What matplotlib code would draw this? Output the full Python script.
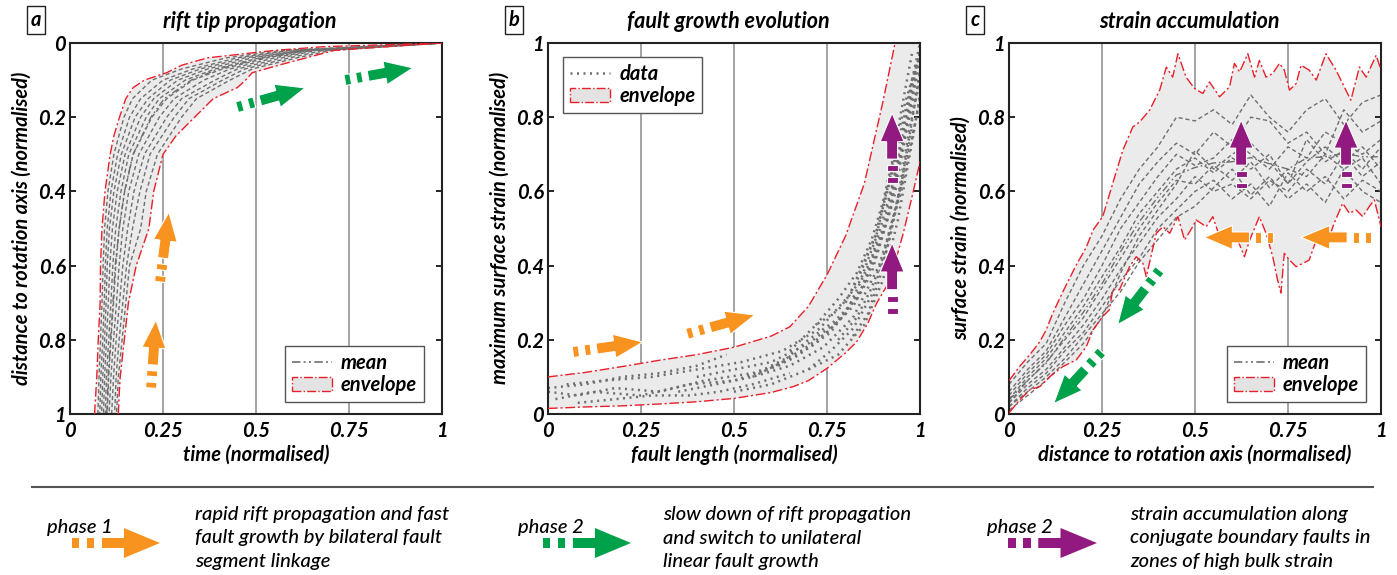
import numpy as np
import matplotlib.pyplot as plt
from matplotlib.patches import Polygon, Patch
from matplotlib.lines import Line2D

plt.rcParams['font.family'] = ['Lato', 'DejaVu Sans']
plt.rcParams['font.style'] = 'italic'
plt.rcParams['axes.linewidth'] = 1.5

W, H = 1397, 575
GREY = '#6f6f6f'
ENV_RED = '#e8202a'
ENV_FILL = '#ebebeb'
ORANGE = '#f7931e'
GREEN = '#00a14b'
PURPLE = '#92197f'

# ---- panel a: rift tip propagation (distance vs time) ----
a_env_d = [1.0, 0.95, 0.9, 0.8, 0.7, 0.6, 0.5, 0.4, 0.3, 0.25, 0.2, 0.15,
           0.12, 0.1, 0.08, 0.06, 0.04, 0.02, 0.01, 0.0]
a_env_early = [0.066, 0.069, 0.072, 0.076, 0.081, 0.082, 0.086, 0.094, 0.108,
               0.118, 0.133, 0.15, 0.17, 0.20, 0.26, 0.30, 0.37, 0.55, 0.68, 1.0]
a_env_late = [0.13, 0.132, 0.135, 0.146, 0.157, 0.178, 0.212, 0.225, 0.25,
              0.285, 0.335, 0.385, 0.45, 0.472, 0.49, 0.56, 0.635, 0.71, 0.85, 1.0]

a_run_d = [1.0, 1.0, 0.9, 0.8, 0.7, 0.6, 0.5, 0.4, 0.3, 0.2, 0.15, 0.1, 0.07, 0.04, 0.02, 0.0]
a_runs_t = [
    [0.0, 0.075, 0.078, 0.082, 0.086, 0.089, 0.093, 0.102, 0.118, 0.145, 0.168, 0.22, 0.30, 0.42, 0.57, 1.0],
    [0.0, 0.080, 0.083, 0.088, 0.092, 0.095, 0.100, 0.110, 0.128, 0.160, 0.190, 0.25, 0.33, 0.45, 0.59, 1.0],
    [0.0, 0.085, 0.088, 0.093, 0.097, 0.100, 0.106, 0.118, 0.138, 0.175, 0.210, 0.27, 0.35, 0.47, 0.61, 1.0],
    [0.0, 0.090, 0.093, 0.098, 0.103, 0.107, 0.114, 0.127, 0.148, 0.190, 0.225, 0.29, 0.37, 0.49, 0.62, 1.0],
    [0.0, 0.095, 0.098, 0.104, 0.110, 0.115, 0.123, 0.137, 0.158, 0.205, 0.240, 0.31, 0.39, 0.51, 0.63, 1.0],
    [0.0, 0.100, 0.104, 0.110, 0.117, 0.123, 0.132, 0.147, 0.170, 0.220, 0.260, 0.33, 0.41, 0.53, 0.64, 1.0],
    [0.0, 0.105, 0.110, 0.117, 0.125, 0.132, 0.142, 0.158, 0.185, 0.240, 0.280, 0.36, 0.43, 0.55, 0.65, 1.0],
    [0.0, 0.112, 0.117, 0.124, 0.133, 0.142, 0.155, 0.172, 0.200, 0.260, 0.300, 0.39, 0.45, 0.57, 0.66, 1.0],
    [0.0, 0.120, 0.124, 0.132, 0.142, 0.152, 0.168, 0.188, 0.215, 0.280, 0.320, 0.41, 0.47, 0.59, 0.68, 1.0],
    [0.0, 0.125, 0.130, 0.140, 0.150, 0.160, 0.190, 0.205, 0.235, 0.300, 0.340, 0.43, 0.49, 0.61, 0.70, 1.0],
]

# ---- panel b: fault growth (max strain vs fault length) ----
b_up_x = [0.0, 0.1, 0.2, 0.3, 0.4, 0.5, 0.6, 0.65, 0.7, 0.75, 0.8, 0.85, 0.9, 0.933]
b_up_y = [0.10, 0.112, 0.128, 0.145, 0.16, 0.18, 0.21, 0.235, 0.29, 0.375, 0.48, 0.62, 0.84, 1.0]
b_lo_x = [0.0, 0.1, 0.2, 0.3, 0.4, 0.5, 0.6, 0.66, 0.7, 0.75, 0.8, 0.83, 0.86, 0.883, 0.92, 0.955, 0.982, 1.0]
b_lo_y = [0.015, 0.019, 0.022, 0.027, 0.033, 0.042, 0.058, 0.074, 0.09, 0.123, 0.165, 0.195,
          0.245, 0.298, 0.361, 0.487, 0.60, 0.68]

b_faults = [
    ([0.00, 0.08, 0.18, 0.30, 0.42, 0.55, 0.66, 0.76, 0.84, 0.90, 0.95, 1.00],
     [0.06, 0.05, 0.07, 0.06, 0.09, 0.11, 0.15, 0.22, 0.33, 0.50, 0.72, 0.95]),
    ([0.02, 0.12, 0.25, 0.38, 0.50, 0.62, 0.72, 0.80, 0.87, 0.93, 0.98],
     [0.04, 0.06, 0.05, 0.08, 0.09, 0.13, 0.19, 0.27, 0.42, 0.63, 0.90]),
    ([0.05, 0.15, 0.28, 0.40, 0.52, 0.63, 0.73, 0.81, 0.88, 0.94, 1.00],
     [0.08, 0.09, 0.10, 0.12, 0.14, 0.17, 0.23, 0.32, 0.48, 0.70, 0.98]),
    ([0.35, 0.45, 0.55, 0.65, 0.74, 0.82, 0.89, 0.95, 1.00],
     [0.06, 0.08, 0.10, 0.13, 0.18, 0.26, 0.40, 0.60, 0.85]),
    ([0.40, 0.50, 0.60, 0.70, 0.78, 0.85, 0.91, 0.96, 1.00],
     [0.10, 0.12, 0.14, 0.19, 0.25, 0.35, 0.52, 0.75, 0.92]),
    ([0.55, 0.63, 0.70, 0.77, 0.83, 0.88, 0.93, 0.97, 1.00],
     [0.10, 0.14, 0.20, 0.25, 0.31, 0.42, 0.58, 0.80, 0.98]),
    ([0.60, 0.68, 0.75, 0.82, 0.87, 0.92, 0.96, 0.99],
     [0.13, 0.17, 0.22, 0.29, 0.38, 0.55, 0.76, 0.95]),
    ([0.50, 0.60, 0.70, 0.78, 0.85, 0.90, 0.94, 0.98, 1.00],
     [0.06, 0.08, 0.12, 0.16, 0.24, 0.36, 0.52, 0.74, 0.86]),
    ([0.65, 0.72, 0.78, 0.84, 0.88, 0.92, 0.95, 0.98],
     [0.17, 0.24, 0.28, 0.36, 0.47, 0.64, 0.82, 0.98]),
    ([0.70, 0.76, 0.82, 0.87, 0.91, 0.94, 0.97, 1.00],
     [0.12, 0.17, 0.23, 0.32, 0.44, 0.58, 0.76, 0.90]),
    ([0.72, 0.78, 0.83, 0.87, 0.90, 0.93, 0.96, 1.00],
     [0.24, 0.31, 0.38, 0.47, 0.57, 0.70, 0.84, 0.97]),
    ([0.78, 0.83, 0.87, 0.90, 0.92, 0.95, 0.98, 1.00],
     [0.20, 0.26, 0.34, 0.42, 0.50, 0.62, 0.80, 0.92]),
    ([0.80, 0.84, 0.88, 0.91, 0.94, 0.97, 1.00],
     [0.30, 0.38, 0.48, 0.60, 0.72, 0.86, 1.00]),
    ([0.00, 0.10, 0.20, 0.30, 0.40, 0.48],
     [0.07, 0.08, 0.10, 0.11, 0.13, 0.16]),
    ([0.08, 0.18, 0.28, 0.38, 0.46, 0.55, 0.65],
     [0.03, 0.04, 0.05, 0.05, 0.06, 0.08, 0.11]),
    ([0.82, 0.86, 0.89, 0.92, 0.95, 0.98],
     [0.21, 0.27, 0.36, 0.48, 0.62, 0.78]),
]

# ---- panel c: strain vs distance to rotation axis ----
c_up_x = [0.0, 0.03, 0.056, 0.083, 0.10, 0.118, 0.145, 0.18, 0.208, 0.226, 0.252, 0.279, 0.306,
          0.333, 0.351, 0.378, 0.405, 0.423, 0.44, 0.454, 0.476, 0.499, 0.521, 0.539, 0.566,
          0.593, 0.606, 0.62, 0.642, 0.66, 0.673, 0.691, 0.709, 0.727, 0.74, 0.754, 0.772,
          0.785, 0.807, 0.826, 0.852, 0.879, 0.901, 0.919, 0.942, 0.96, 0.987, 1.0]
c_up_y = [0.09, 0.13, 0.16, 0.195, 0.227, 0.272, 0.33, 0.40, 0.45, 0.496, 0.532, 0.622, 0.711,
          0.774, 0.787, 0.819, 0.873, 0.935, 0.908, 0.971, 0.908, 0.877, 0.864, 0.895, 0.855,
          0.882, 0.945, 0.922, 0.971, 0.908, 0.953, 0.908, 0.918, 0.945, 0.927, 0.873, 0.891,
          0.94, 0.927, 0.90, 0.971, 0.927, 0.882, 0.846, 0.935, 0.908, 0.967, 0.927]
c_lo_x = [0.0, 0.029, 0.056, 0.083, 0.11, 0.145, 0.181, 0.208, 0.226, 0.252, 0.27, 0.279,
          0.297, 0.324, 0.342, 0.36, 0.369, 0.396, 0.414, 0.432, 0.454, 0.472, 0.494, 0.503,
          0.53, 0.548, 0.566, 0.584, 0.611, 0.633, 0.647, 0.673, 0.691, 0.709, 0.722, 0.731,
          0.74, 0.754, 0.772, 0.79, 0.807, 0.826, 0.852, 0.874, 0.897, 0.915, 0.933, 0.951,
          0.969, 0.982, 1.0]
c_lo_y = [0.003, 0.038, 0.065, 0.074, 0.101, 0.128, 0.146, 0.182, 0.227, 0.263, 0.281, 0.335,
          0.335, 0.397, 0.424, 0.406, 0.37, 0.487, 0.505, 0.487, 0.532, 0.469, 0.505, 0.523,
          0.505, 0.532, 0.478, 0.496, 0.478, 0.424, 0.469, 0.532, 0.487, 0.424, 0.361, 0.326,
          0.433, 0.415, 0.397, 0.406, 0.415, 0.469, 0.451, 0.514, 0.568, 0.541, 0.55, 0.532,
          0.56, 0.577, 0.505]

c_dist = [0.0, 0.05, 0.1, 0.15, 0.2, 0.25, 0.3, 0.35, 0.4, 0.45, 0.5,
          0.55, 0.6, 0.65, 0.7, 0.75, 0.8, 0.85, 0.9, 0.95, 1.0]
c_runs = [
    [0.08, 0.14, 0.19, 0.30, 0.40, 0.48, 0.58, 0.66, 0.72, 0.80, 0.79, 0.82, 0.78, 0.86, 0.80, 0.76, 0.82, 0.85, 0.78, 0.84, 0.86],
    [0.06, 0.12, 0.17, 0.26, 0.35, 0.44, 0.53, 0.62, 0.68, 0.73, 0.70, 0.76, 0.72, 0.80, 0.79, 0.73, 0.76, 0.70, 0.82, 0.76, 0.79],
    [0.05, 0.11, 0.16, 0.24, 0.31, 0.40, 0.50, 0.57, 0.64, 0.70, 0.67, 0.69, 0.74, 0.70, 0.66, 0.72, 0.69, 0.76, 0.73, 0.70, 0.74],
    [0.04, 0.10, 0.15, 0.22, 0.29, 0.37, 0.45, 0.54, 0.60, 0.66, 0.69, 0.65, 0.69, 0.66, 0.70, 0.62, 0.68, 0.72, 0.68, 0.72, 0.66],
    [0.03, 0.09, 0.14, 0.20, 0.26, 0.34, 0.42, 0.50, 0.57, 0.63, 0.62, 0.67, 0.63, 0.68, 0.61, 0.66, 0.64, 0.70, 0.66, 0.69, 0.62],
    [0.03, 0.08, 0.12, 0.18, 0.24, 0.31, 0.39, 0.46, 0.53, 0.58, 0.64, 0.60, 0.62, 0.58, 0.63, 0.60, 0.66, 0.62, 0.70, 0.64, 0.68],
    [0.02, 0.07, 0.11, 0.17, 0.22, 0.29, 0.36, 0.42, 0.50, 0.55, 0.60, 0.63, 0.58, 0.62, 0.56, 0.65, 0.60, 0.64, 0.58, 0.63, 0.60],
    [0.02, 0.06, 0.10, 0.15, 0.21, 0.27, 0.33, 0.41, 0.47, 0.53, 0.56, 0.61, 0.66, 0.59, 0.64, 0.58, 0.62, 0.57, 0.66, 0.60, 0.57],
    [0.01, 0.05, 0.09, 0.14, 0.19, 0.26, 0.38, 0.48, 0.55, 0.62, 0.71, 0.66, 0.70, 0.73, 0.68, 0.62, 0.74, 0.68, 0.71, 0.66, 0.72],
]

xticks = [0, 0.25, 0.5, 0.75, 1]
xticklabels = ['0', '0.25', '0.5', '0.75', '1']
yticks = [0, 0.2, 0.4, 0.6, 0.8, 1]
yticklabels = ['0', '0.2', '0.4', '0.6', '0.8', '1']

titles = ['rift tip propagation', 'fault growth evolution', 'strain accumulation']
xlabels = ['time (normalised)', 'fault length (normalised)', 'distance to rotation axis (normalised)']
ylabels = ['distance to rotation axis (normalised)', 'maximum surface strain (normalised)',
           'surface strain (normalised)']
panel_letters = ['a', 'b', 'c']

phase_labels = ['phase 1', 'phase 2', 'phase 2']
phase_colors = [ORANGE, GREEN, PURPLE]
phase_texts = ['rapid rift propagation and fast\nfault growth by bilateral fault\nsegment linkage',
               'slow down of rift propagation\nand switch to unilateral\nlinear fault growth',
               'strain accumulation along\nconjugate boundary faults in\nzones of high bulk strain']

BOLD = 'bold'
env_dash = (0, (7, 2, 1.5, 2))
mean_dash = (0, (5, 2, 1.2, 2, 1.2, 2))


def px(x, y):
    """pixel position (from top-left) -> figure fraction"""
    return x / W, 1 - y / H


def phase_arrow(target, tail, tip, color, trans, head_w=24, shaft_w=11, edge=True):
    p0 = np.asarray(trans.transform(tail), float)
    p1 = np.asarray(trans.transform(tip), float)
    v = p1 - p0
    L = np.hypot(*v)
    u = v / L
    n = np.array([-u[1], u[0]])

    def pt(s, w):
        return p0 + u * s * L + n * w

    hw, sw = head_w / 2, shaft_w / 2
    parts = [[pt(s0, -sw), pt(s1, -sw), pt(s1, sw), pt(s0, sw)]
             for s0, s1 in [(0.0, 0.085), (0.17, 0.255)]]
    parts.append([pt(0.34, -sw), pt(0.59, -sw), pt(0.59, -hw), pt(1.0, 0),
                  pt(0.59, hw), pt(0.59, sw), pt(0.34, sw)])
    inv = trans.inverted()
    for verts in parts:
        poly = Polygon(inv.transform(np.array(verts)), closed=True, facecolor=color,
                       edgecolor='white' if edge else 'none', lw=0.8 if edge else 0,
                       transform=trans, clip_on=False, zorder=8)
        target.add_artist(poly)


fig = plt.figure(figsize=(W / 100, H / 100), dpi=100)
lefts = [70, 548, 1009]
axes = []
for left in lefts:
    x0, y1 = px(left, 414)
    ax = fig.add_axes([x0, y1, 372 / W, 371 / H])
    axes.append(ax)

for i, ax in enumerate(axes):
    ax.set_xlim(0, 1)
    ax.set_ylim(0, 1)
    ax.set_xticks(xticks)
    ax.set_xticklabels(xticklabels)
    ax.set_yticks(yticks)
    ax.set_yticklabels(yticklabels)
    ax.tick_params(axis='y', direction='in', left=True, right=True, length=4, width=1.2, pad=3)
    ax.tick_params(axis='x', length=0, pad=5)
    for lab in ax.get_xticklabels() + ax.get_yticklabels():
        lab.set_fontsize(14.5)
        lab.set_fontweight(BOLD)
        lab.set_fontstyle('italic')
    for sp in ax.spines.values():
        sp.set_color('#222222')
    for gx in xticks[1:-1]:
        ax.axvline(gx, color='#8a8a8a', lw=1.1, zorder=0.5)

    cx = lefts[i] + 186
    fig.text(*px(cx - 6, 21), titles[i], ha='center', va='center', fontsize=15.5, fontweight=BOLD)
    fig.text(*px(cx, 455), xlabels[i], ha='center', va='center', fontsize=14.5, fontweight=BOLD)
    fig.text(*px(lefts[i] - 48, 228), ylabels[i], ha='center', va='center', rotation=90,
             fontsize=14.5, fontweight=BOLD)
    fig.text(*px(lefts[i] - 34, 20), panel_letters[i], ha='center', va='center', fontsize=14.5,
             fontweight=BOLD,
             bbox=dict(boxstyle='square,pad=0.2', facecolor='white', edgecolor='#222', lw=1))

# panel a
ax = axes[0]
ax.set_ylim(1, 0)
ax.fill_betweenx(a_env_d, a_env_early, a_env_late, color=ENV_FILL, lw=0, zorder=1)
ax.plot(a_env_early, a_env_d, color=ENV_RED, lw=1, ls=env_dash, zorder=3)
ax.plot(a_env_late, a_env_d, color=ENV_RED, lw=1, ls=env_dash, zorder=3)
for run in a_runs_t:
    ax.plot(run, a_run_d, color=GREY, lw=1, ls=(0, (3, 2)), zorder=2)
ax.plot(np.mean(a_runs_t, axis=0), a_run_d, color=GREY, lw=1, ls=mean_dash, zorder=2)

# panel b
ax = axes[1]
ax.fill(b_up_x + [1.0] + b_lo_x[::-1], b_up_y + [1.0] + b_lo_y[::-1], color=ENV_FILL, lw=0, zorder=1)
ax.plot(b_up_x, b_up_y, color=ENV_RED, lw=1, ls=env_dash, zorder=3)
ax.plot(b_lo_x, b_lo_y, color=ENV_RED, lw=1, ls=env_dash, zorder=3)
for fx, fy in b_faults:
    ax.plot(fx, fy, color=GREY, lw=1.8, ls=(0, (0.8, 1.8)), zorder=2)

# panel c
ax = axes[2]
ax.fill(c_up_x + c_lo_x[::-1], c_up_y + c_lo_y[::-1], color=ENV_FILL, lw=0, zorder=1)
ax.plot(c_up_x, c_up_y, color=ENV_RED, lw=1, ls=env_dash, zorder=3)
ax.plot(c_lo_x, c_lo_y, color=ENV_RED, lw=1, ls=env_dash, zorder=3)
for run in c_runs:
    ax.plot(c_dist, run, color=GREY, lw=1, ls=(0, (3, 2)), zorder=2)
ax.plot(c_dist, np.mean(c_runs, axis=0), color=GREY, lw=1, ls=mean_dash, zorder=2)

# legends
env_handle = Patch(facecolor='#e3e3e3', edgecolor=ENV_RED, lw=1, ls='-.')
mean_handle = Line2D([], [], color=GREY, lw=1.2, ls=mean_dash)
data_handle = Line2D([], [], color=GREY, lw=1.8, ls=(0, (0.8, 1.8)))
leg_kw = dict(frameon=True, fancybox=False, edgecolor='#555555', framealpha=1,
              prop=dict(size=14.5, weight=BOLD, style='italic'), handlelength=2.0,
              handletextpad=0.45, labelspacing=0.1, borderpad=0.35, borderaxespad=0)
for ax, loc, anchor in [(axes[0], 'lower right', (0.952, 0.032)),
                        (axes[2], 'lower right', (0.96, 0.033))]:
    lg = ax.legend([mean_handle, env_handle], ['mean', 'envelope'], loc=loc,
                   bbox_to_anchor=anchor, **leg_kw)
    lg.get_frame().set_linewidth(1)
lg = axes[1].legend([data_handle, env_handle], ['data', 'envelope'], loc='upper left',
                    bbox_to_anchor=(0.04, 0.962), **leg_kw)
lg.get_frame().set_linewidth(1)

# phase arrows in the panels
ta, tb, tc = axes[0].transData, axes[1].transData, axes[2].transData
phase_arrow(axes[0], (0.242, 0.644), (0.266, 0.456), ORANGE, ta)
phase_arrow(axes[0], (0.218, 0.930), (0.231, 0.747), ORANGE, ta)
phase_arrow(axes[0], (0.449, 0.173), (0.632, 0.121), GREEN, ta)
phase_arrow(axes[0], (0.739, 0.100), (0.922, 0.067), GREEN, ta)
phase_arrow(axes[1], (0.067, 0.167), (0.255, 0.194), ORANGE, tb)
phase_arrow(axes[1], (0.374, 0.216), (0.556, 0.267), ORANGE, tb)
phase_arrow(axes[1], (0.925, 0.623), (0.925, 0.811), PURPLE, tb)
phase_arrow(axes[1], (0.925, 0.270), (0.925, 0.461), PURPLE, tb)
phase_arrow(axes[2], (0.624, 0.608), (0.624, 0.792), PURPLE, tc)
phase_arrow(axes[2], (0.906, 0.608), (0.906, 0.792), PURPLE, tc)
phase_arrow(axes[2], (0.709, 0.476), (0.525, 0.476), ORANGE, tc)
phase_arrow(axes[2], (0.973, 0.476), (0.785, 0.476), ORANGE, tc)
phase_arrow(axes[2], (0.405, 0.388), (0.292, 0.241), GREEN, tc)
phase_arrow(axes[2], (0.249, 0.168), (0.120, 0.028), GREEN, tc)

# key below the panels
fig.add_artist(Line2D([32 / W, 1373 / W], [1 - 487 / H] * 2, color='#555555', lw=1.5,
                      transform=fig.transFigure))
key_cols = [(47, 72, 160, 195), (518, 543, 631, 663), (987, 1008, 1097, 1130)]
for (tx, ax0, ax1, dx), lab, col, txt in zip(key_cols, phase_labels, phase_colors, phase_texts):
    fig.text(*px(tx, 527), lab, ha='left', va='center', fontsize=14.5, fontweight='medium')
    phase_arrow(fig, px(ax0, 543), px(ax1, 543), col, fig.transFigure,
                head_w=30, shaft_w=10, edge=False)
    fig.text(*px(dx, 538), txt, ha='left', va='center', fontsize=14.5, fontweight='medium',
             linespacing=1.45)

fig.savefig('out.png', dpi=100)
